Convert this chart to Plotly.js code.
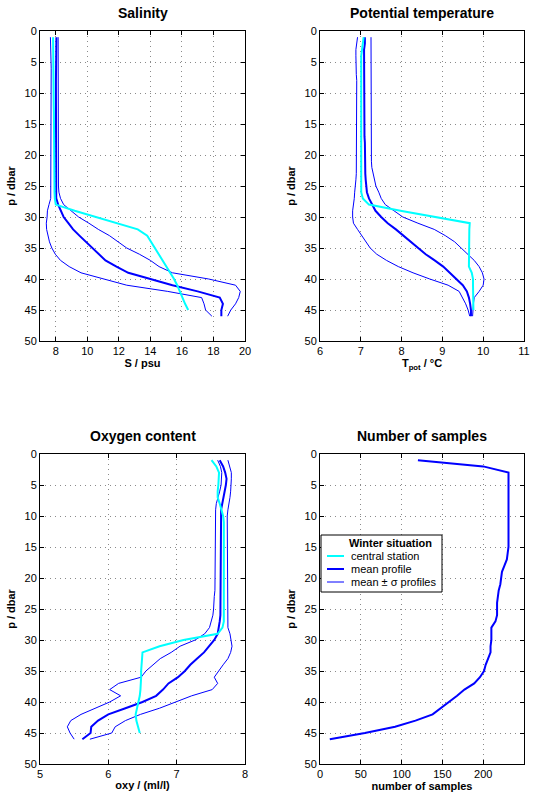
<!DOCTYPE html>
<html>
<head>
<meta charset="utf-8">
<script src="https://cdn.plot.ly/plotly-3.0.1.min.js"></script>
<style>html,body{margin:0;padding:0;background:#fff;}#chart{width:533px;height:794px;}</style>
</head>
<body>
<div id="chart"></div>
<script>
// pressure levels (dbar)
const pres = [1,2,3,4,5,6,7,8,9,10,11,12,13,14,15,16,17,18,19,20,21,22,23,24,25,26,27,28,29,30,31,32,33,34,35,36,37,38,39,40,41,42,43,44,45,46];
const presCentral = [1,2,3,4,5,6,7,8,9,10,11,12,13,14,15,16,17,18,19,20,21,22,23,24,25,26,27,28,29,30,31,32,33,34,35,36,37,38,39,40,41,42,43,44,45];

// Salinity (psu)
const salMean = [8.04,8.03,8.03,8.02,8.02,8.02,8.01,8.01,8.01,8.01, 8.0,8.0,8.0,8.0,8.0,8.0,8.0,8.0,8.0,8.0, 8.0,8.0,8.0,8.0,8.0,8.01,8.03,8.15,8.3,8.5, 8.8,9.1,9.5,9.9,10.35,10.7,11.15,11.85,12.6,14.0, 15.4,17.0,18.4,18.6,18.5,18.5];
const salLow = [7.66,7.68,7.69,7.7,7.7,7.71,7.71,7.72,7.72,7.72, 7.72,7.72,7.72,7.72,7.72,7.72,7.72,7.72,7.72,7.72, 7.72,7.72,7.72,7.72,7.72,7.71,7.68,7.57,7.47,7.45, 7.4,7.42,7.5,7.6,7.75,7.97,8.3,8.85,9.6,11.1, 12.5,15.1,17.25,17.4,17.5,17.9];
const salHigh = [8.15,8.15,8.15,8.15,8.15,8.15,8.15,8.15,8.15,8.15, 8.15,8.15,8.15,8.15,8.15,8.15,8.15,8.15,8.15,8.15, 8.15,8.15,8.15,8.16,8.17,8.2,8.3,8.5,8.98,9.45, 10.1,10.7,11.4,11.95,12.5,13.3,14.0,14.55,15.4,17.7, 19.4,19.7,19.6,19.4,19.1,18.9];
const salCentral = [7.83,7.83,7.84,7.84,7.85,7.85,7.85,7.86,7.86,7.87, 7.87,7.87,7.88,7.88,7.88,7.89,7.89,7.89,7.9,7.9, 7.9,7.9,7.91,7.91,7.91,7.92,7.94,8.0,9.2,10.5, 11.8,13.2,13.8,14.05,14.3,14.55,14.8,15.05,15.25,15.5, 15.7,15.85,16.05,16.2,16.4];

// Potential temperature (°C)
const tMean = [7.1,7.1,7.08,7.08,7.08,7.08,7.08,7.08,7.08,7.08, 7.09,7.09,7.09,7.09,7.09,7.09,7.09,7.1,7.1,7.1, 7.1,7.11,7.11,7.12,7.13,7.15,7.2,7.27,7.36,7.5, 7.66,7.86,8.04,8.22,8.41,8.59,8.81,9.02,9.18,9.34, 9.5,9.6,9.65,9.68,9.7,9.7];
const tLow = [6.92,6.9,6.88,6.88,6.88,6.89,6.89,6.9,6.9,6.9, 6.9,6.9,6.9,6.9,6.9,6.9,6.9,6.9,6.9,6.9, 6.9,6.89,6.89,6.88,6.86,6.85,6.84,6.82,6.8,6.8, 6.82,6.92,7.02,7.12,7.23,7.39,7.63,7.92,8.28,8.69, 9.14,9.41,9.5,9.57,9.63,9.67];
const tHigh = [7.25,7.25,7.25,7.25,7.25,7.25,7.25,7.25,7.25,7.25, 7.25,7.25,7.25,7.25,7.25,7.25,7.25,7.25,7.25,7.25, 7.26,7.27,7.3,7.33,7.37,7.44,7.5,7.6,7.8,8.03, 8.4,8.8,9.07,9.3,9.46,9.62,9.78,9.9,9.98,10.02, 10.0,9.9,9.78,9.76,9.75,9.74];
const tCentral = [7.07,7.05,7.02,7.01,7.01,7.01,7.01,7.01,7.01,7.01, 7.01,7.01,7.01,7.01,7.01,7.01,7.01,7.01,7.01,7.01, 7.01,7.01,7.01,7.01,7.01,7.01,7.05,7.2,7.97,8.82, 9.67,9.66,9.66,9.66,9.66,9.66,9.66,9.65,9.72,9.75, 9.75,9.75,9.75,9.75,9.76];

// Oxygen content (ml/l)
const oMean = [7.63,7.68,7.71,7.73,7.72,7.7,7.68,7.66,7.65,7.65, 7.65,7.65,7.65,7.65,7.65,7.65,7.65,7.65,7.65,7.65, 7.65,7.65,7.65,7.65,7.64,7.64,7.63,7.62,7.6,7.55, 7.48,7.4,7.3,7.2,7.12,7.02,6.88,6.8,6.7,6.5, 6.25,6.0,5.85,5.75,5.74,5.62];
const oLow = [7.6,7.64,7.66,7.66,7.65,7.63,7.6,7.58,7.57,7.57, 7.57,7.57,7.57,7.57,7.57,7.57,7.57,7.57,7.57,7.56, 7.56,7.56,7.55,7.55,7.54,7.53,7.51,7.48,7.41,7.27, 7.05,6.92,6.76,6.65,6.55,6.48,6.15,6.02,6.18,6.02, 5.82,5.6,5.45,5.4,5.44,5.5];
const oHigh = [7.75,7.78,7.8,7.8,7.8,7.79,7.78,7.76,7.75,7.74, 7.74,7.74,7.74,7.74,7.74,7.74,7.74,7.74,7.74,7.74, 7.74,7.74,7.74,7.74,7.74,7.74,7.74,7.75,7.78,7.8, 7.81,7.79,7.75,7.68,7.62,7.55,7.6,7.52,7.22,6.98, 6.75,6.47,6.25,6.1,6.05,5.73];
const oCentral = [7.51,7.58,7.62,7.62,7.61,7.6,7.6,7.63,7.66,7.68, 7.69,7.69,7.69,7.7,7.7,7.7,7.7,7.7,7.7,7.7, 7.7,7.7,7.7,7.7,7.7,7.7,7.69,7.67,7.6,7.1, 6.75,6.5,6.49,6.48,6.48,6.48,6.48,6.47,6.46,6.44, 6.41,6.4,6.41,6.44,6.46];

// Number of samples
const nSamples = [120,200,231,231,231,231,231,231,231,231, 231,231,231,231,231,230,229,226,223,222, 221,219,218,217,217,217,215,210,210,210, 209,209,206,203,201,196,189,177,168,158, 149,138,117,92,55,12];

// Labels
const panelTitles = ['Salinity','Potential temperature','Oxygen content','Number of samples'];
const xTitles = ['S / psu','T<sub>pot</sub> / °C','oxy / (ml/l)','number of samples'];
const yTitle = 'p / dbar';
const legendTitle = 'Winter situation';
const seriesNames = ['central station','mean profile','mean \u00b1 \u03c3 profiles'];
const xRanges = [[7,20],[6,11],[5,8],[0,250]];
const xTicks = [[8,10,12,14,16,18,20],[6,7,8,9,10,11],[5,6,7,8],[0,50,100,150,200,250]];
const yTicks = [0,5,10,15,20,25,30,35,40,45,50];

const BLUE = '#0000ff', CYAN = '#00ffff';
const traces = [];
const profiles = [
  {low: salLow, high: salHigh, mean: salMean, central: salCentral},
  {low: tLow, high: tHigh, mean: tMean, central: tCentral},
  {low: oLow, high: oHigh, mean: oMean, central: oCentral}
];
profiles.forEach((pr, i) => {
  const xa = i === 0 ? 'x' : 'x' + (i + 1);
  const ya = i === 0 ? 'y' : 'y' + (i + 1);
  traces.push({x: pr.low, y: pres, xaxis: xa, yaxis: ya, mode: 'lines', line: {color: BLUE, width: 1}, name: seriesNames[2]});
  traces.push({x: pr.high, y: pres, xaxis: xa, yaxis: ya, mode: 'lines', line: {color: BLUE, width: 1}, name: seriesNames[2]});
  traces.push({x: pr.mean, y: pres, xaxis: xa, yaxis: ya, mode: 'lines', line: {color: BLUE, width: 2}, name: seriesNames[1]});
  traces.push({x: pr.central, y: presCentral, xaxis: xa, yaxis: ya, mode: 'lines', line: {color: CYAN, width: 2}, name: seriesNames[0]});
});
traces.push({x: nSamples, y: pres, xaxis: 'x4', yaxis: 'y4', mode: 'lines', line: {color: BLUE, width: 2}, name: 'samples'});

const W = 533, H = 794;
const colPx = [[40,245],[320,524]];
const rowPx = [[31,341],[454,764]];
const FONT = 'Liberation Sans, Arial, sans-serif';
const px = v => v / W, py = v => 1 - v / H;
const layout = {
  width: W, height: H,
  margin: {l: 0, r: 0, t: 0, b: 0},
  paper_bgcolor: '#fff', plot_bgcolor: '#fff',
  font: {family: FONT, size: 11, color: '#000'},
  showlegend: false,
  annotations: [],
  shapes: []
};
for (let i = 0; i < 4; i++) {
  const c = i % 2, r = Math.floor(i / 2);
  const sfx = i === 0 ? '' : String(i + 1);
  layout['xaxis' + sfx] = {
    domain: [colPx[c][0] / W, colPx[c][1] / W], anchor: 'y' + sfx,
    range: xRanges[i], tickvals: xTicks[i], ticks: 'inside', ticklen: 4, tickcolor: '#000',
    showline: true, linecolor: '#000', linewidth: 1, mirror: 'ticks',
    showgrid: true, gridcolor: '#8a8a8a', gridwidth: 1, griddash: '1px,4px',
    zeroline: false, tickfont: {family: FONT, size: 11},
    title: {text: '<b>' + xTitles[i] + '</b>', font: {family: FONT, size: 11}, standoff: 2}
  };
  layout['yaxis' + sfx] = {
    domain: [1 - rowPx[r][1] / H, 1 - rowPx[r][0] / H], anchor: 'x' + sfx,
    range: [50, 0], tickvals: yTicks, ticks: 'inside', ticklen: 4, tickcolor: '#000',
    showline: true, linecolor: '#000', linewidth: 1, mirror: 'ticks',
    showgrid: true, gridcolor: '#8a8a8a', gridwidth: 1, griddash: '1px,4px',
    zeroline: false, tickfont: {family: FONT, size: 11},
    title: {text: '<b>' + yTitle + '</b>', font: {family: FONT, size: 11}, standoff: 6}
  };
  layout.annotations.push({
    text: '<b>' + panelTitles[i] + '</b>', xref: 'paper', yref: 'paper',
    x: (colPx[c][0] + colPx[c][1]) / 2 / W, y: 1 - (rowPx[r][0] - 8) / H,
    xanchor: 'center', yanchor: 'bottom', showarrow: false,
    font: {family: FONT, size: 14, color: '#000'}
  });
}

// Legend box (drawn inside the "Number of samples" panel)
const leg = {x0: 321, x1: 442, y0: 535, y1: 592};
layout.shapes.push({type: 'rect', xref: 'paper', yref: 'paper', x0: px(leg.x0), x1: px(leg.x1), y0: py(leg.y0), y1: py(leg.y1), line: {color: '#000', width: 1}, fillcolor: '#fff', layer: 'above'});
layout.annotations.push({text: '<b>' + legendTitle + '</b>', xref: 'paper', yref: 'paper', x: px(390), y: py(543), xanchor: 'center', yanchor: 'middle', showarrow: false, font: {family: FONT, size: 11, color: '#000'}});
const legItems = [
  {name: seriesNames[0], color: CYAN, width: 2, y: 556},
  {name: seriesNames[1], color: BLUE, width: 2, y: 569},
  {name: seriesNames[2], color: BLUE, width: 1, y: 582}
];
legItems.forEach(it => {
  layout.shapes.push({type: 'line', xref: 'paper', yref: 'paper', x0: px(327), x1: px(344), y0: py(it.y), y1: py(it.y), line: {color: it.color, width: it.width}, layer: 'above'});
  layout.annotations.push({text: it.name, xref: 'paper', yref: 'paper', x: px(349), y: py(it.y), xanchor: 'left', yanchor: 'middle', showarrow: false, font: {family: FONT, size: 11, color: '#000'}});
});

Plotly.newPlot('chart', traces, layout, {staticPlot: true, displayModeBar: false});
</script>
</body>
</html>
